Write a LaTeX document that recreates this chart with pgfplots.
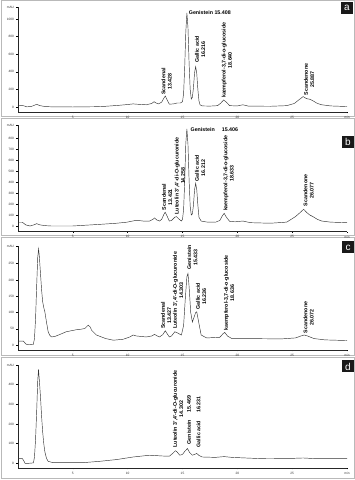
\documentclass[border=0pt]{standalone}
\usepackage{fontspec}
\setmainfont{Liberation Sans}
\usepackage{pgfplots}
\pgfplotsset{compat=1.18}
\newcommand\lab{\fontsize{5.3}{6.2}\selectfont\bfseries}
\pgfplotsset{chrom/.style={
  scale only axis, width=329pt, xmin=0, xmax=30,
  axis x line*=bottom, axis y line*=left, axis line style={-, line width=0.6pt, black!85},
  xtick={5,10,15,20,25,30}, xticklabels={5,10,15,20,25,min},
  tick align=outside, major tick length=1.5pt, tick style={line width=0.4pt, black},
  ticklabel style={font=\fontsize{3.2}{3.5}\selectfont, text=black!80},
  xticklabel style={yshift=1pt}, yticklabel style={xshift=1pt},
  clip=false,
}}
\tikzset{curve/.style={line width=0.45pt, black!80},
rl/.style={rotate=90, anchor=west, align=center, inner sep=0.5pt, font=\lab},
hl/.style={anchor=west, inner sep=0.5pt, font=\lab}}
\begin{document}
\begin{tikzpicture}
\path[use as bounding box] (0pt,0pt) rectangle (355pt,480pt);
% frames
\draw[gray!55, line width=1pt] (1pt,363pt) rectangle (354pt,479pt);
\draw[gray!55, line width=1pt] (1pt,244pt) rectangle (354pt,361pt);
\draw[gray!55, line width=1pt] (1pt,124pt) rectangle (354pt,242pt);
\draw[gray!55, line width=1pt] (1pt,1pt) rectangle (354pt,122pt);

% ---------- panel a ----------
\begin{axis}[chrom, at={(18pt,368pt)}, anchor=south west, height=105pt, ymin=-57, ymax=1136,
  ytick={0,200,400,600,800,1000,1136}, yticklabels={0,200,400,600,800,1000,mAU}]
\addplot[curve, no marks] coordinates {(0,20)(0.4,18)(0.8,2)(1.2,5)(1.5,20)(1.7,30)(2.0,15)(2.5,5)(3,2)(5,0)(7,3)(8,8)(9.3,20)(10,28)(10.5,35)(11,30)(11.7,25)(12.2,40)(12.4,60)(12.6,45)(12.8,35)(13.1,55)(13.3,100)(13.43,125)(13.6,80)(13.8,32)(14.2,35)(14.5,45)(14.8,45)(15.0,60)(15.1,150)(15.2,450)(15.3,850)(15.4,1068)(15.5,900)(15.6,500)(15.7,200)(15.8,90)(15.9,110)(16.0,220)(16.1,390)(16.2,458)(16.3,380)(16.4,200)(16.5,70)(16.6,25)(16.8,12)(17.5,10)(18.2,15)(18.5,45)(18.75,80)(19.0,55)(19.3,15)(20.0,12)(20.5,25)(21,10)(23,8)(24.5,15)(25.2,40)(25.6,80)(26.0,118)(26.3,95)(26.6,88)(26.9,70)(27.3,40)(27.7,25)(28.5,12)(30,5)};
\node[rl] at (axis cs:13.55,130) {Scandenal\\13.428};
\node[hl] at (axis cs:15.52,1068) {Genistein 15.408};
\node[rl] at (axis cs:16.6,496) {Gallic acid\\16.216};
\node[rl] at (axis cs:19.05,95) {kaempferol-3,7-di-o-glucoside\\18.640};
\node[rl] at (axis cs:26.55,125) {Scandenone\\25.887};
\end{axis}

% ---------- panel b ----------
\begin{axis}[chrom, at={(18pt,248.3pt)}, anchor=south west, height=106.7pt, ymin=-52, ymax=918,
  ytick={0,100,200,300,400,500,600,700,800,918}, yticklabels={0,100,200,300,400,500,600,700,800,mAU}]
\addplot[curve, no marks] coordinates {(0,34)(0.4,34)(0.7,10)(1.1,0)(1.5,12)(1.7,21)(2.0,10)(2.5,3)(3,0)(5,0)(7.5,15)(9,25)(9.9,34)(10.8,52)(11.4,45)(12,45)(12.3,60)(12.45,73)(12.65,55)(12.9,45)(13.1,60)(13.3,105)(13.42,125)(13.55,100)(13.8,45)(14.0,50)(14.3,80)(14.45,85)(14.65,65)(14.9,45)(15.0,60)(15.1,150)(15.2,400)(15.3,750)(15.4,882)(15.5,740)(15.6,420)(15.7,180)(15.8,100)(15.9,110)(16.0,190)(16.1,330)(16.2,388)(16.3,330)(16.4,190)(16.5,80)(16.7,45)(17.2,36)(18.0,34)(18.4,50)(18.65,95)(18.8,115)(19.0,80)(19.3,42)(19.8,38)(20.5,45)(21.2,30)(23,25)(24.5,35)(25.3,85)(25.7,120)(26.05,152)(26.3,125)(26.6,100)(26.9,85)(27.3,60)(27.7,45)(28.5,35)(30,30)};
\node[rl] at (axis cs:13.6,135) {Scandenal\\13.421};
\node[rl] at (axis cs:14.75,100) {Luteolin 3',4'-di-O-glucuronide\\14.258};
\node[hl] at (axis cs:15.68,873) {Genistein\hspace{7pt}15.406};
\node[rl] at (axis cs:16.6,400) {Gallic acid\\16.212};
\node[rl] at (axis cs:19.2,130) {kaempferol-3,7-di-o-glucoside\\18.633};
\node[rl] at (axis cs:26.5,175) {Scandenone\\26.077};
\end{axis}

% ---------- panel c ----------
\begin{axis}[chrom, at={(18pt,130pt)}, anchor=south west, height=104pt, ymin=-15, ymax=304,
  ytick={0,50,100,150,200,250,304}, yticklabels={0,50,100,150,200,250,mAU}]
\addplot[curve, no marks] coordinates {(0,12)(0.5,12)(0.7,4)(0.8,2)(1.0,1)(1.4,2)(1.5,20)(1.6,80)(1.7,180)(1.8,270)(1.88,295)(1.95,270)(2.06,215)(2.15,170)(2.25,133)(2.35,115)(2.45,102)(2.6,70)(2.75,41)(2.9,30)(3.06,25)(3.4,27)(3.7,31)(4.4,41)(5.3,47)(5.8,49)(6.1,51)(6.4,61)(6.6,55)(6.7,46)(7.15,31)(8.0,20)(8.7,15)(9.6,18)(10.2,25)(10.5,31)(10.8,28)(11.7,25)(12.2,28)(12.45,33)(12.7,28)(12.9,25)(13.2,32)(13.43,44)(13.6,35)(13.8,25)(14.0,28)(14.3,41)(14.5,38)(14.9,31)(15.1,60)(15.25,140)(15.4,210)(15.5,220)(15.6,180)(15.75,100)(15.9,71)(16.05,85)(16.2,100)(16.3,102)(16.45,75)(16.7,31)(17.2,22)(18.4,24)(18.7,35)(18.85,39)(19.1,28)(19.5,20)(21,20)(24,19)(25.3,22)(25.8,28)(26.1,31)(26.4,28)(27,20)(28,16)(30,14)};
\node[rl] at (axis cs:13.5,48) {Scandenal\\13.427};
\node[rl] at (axis cs:14.6,48) {Luteolin 3',4'-di-O-glucuronide\\14.303};
\node[rl] at (axis cs:15.9,230) {Genistein\\15.433};
\node[rl] at (axis cs:16.7,107) {Gallic acid\\16.236};
\node[rl] at (axis cs:19.25,42) {kaempferol-3,7-di-o-glucoside\\18.636};
\node[rl] at (axis cs:26.5,34) {Scandenone\\26.072};
\end{axis}

% ---------- panel d ----------
\begin{axis}[chrom, at={(18pt,12pt)}, anchor=south west, height=103pt, ymin=-24, ymax=500,
  ytick={0,100,200,300,400,500}, yticklabels={0,100,200,300,400,mAU}]
\addplot[curve, no marks] coordinates {(0,24)(0.4,24)(0.55,10)(0.65,0)(1.0,0)(1.4,2)(1.5,30)(1.6,120)(1.7,260)(1.8,420)(1.87,478)(1.95,420)(2.06,330)(2.15,240)(2.25,159)(2.35,100)(2.45,58)(2.6,25)(2.75,10)(3.2,3)(5.9,3)(7.45,10)(9,19)(10.5,32)(12,41)(13.2,37)(13.8,36)(14.1,50)(14.35,64)(14.5,58)(14.75,41)(15.0,45)(15.2,60)(15.45,75)(15.65,55)(15.9,41)(16.1,45)(16.3,50)(16.5,40)(16.8,32)(18.0,30)(18.8,34)(19.5,30)(22,24)(25,25)(26,27)(27,24)(30,24)};
\node[rl] at (axis cs:14.6,77) {Luteolin 3',4'-di-O-glucuronide\\14.302};
\node[rl] at (axis cs:15.6,93) {Genistein\hspace{8pt}15.469};
\node[rl] at (axis cs:16.45,77) {Gallic acid\hspace{8pt}16.231};
\end{axis}

% panel letters
\foreach \cx/\cy/\l in {347/472/a, 348/338/b, 348/232.5/c, 348/113.5/d}{
  \node[fill=black!90, text=white, minimum size=12pt, inner sep=0pt, font=\fontsize{10}{10}\selectfont] at (\cx pt,\cy pt) {\l};
}
\end{tikzpicture}
\end{document}
